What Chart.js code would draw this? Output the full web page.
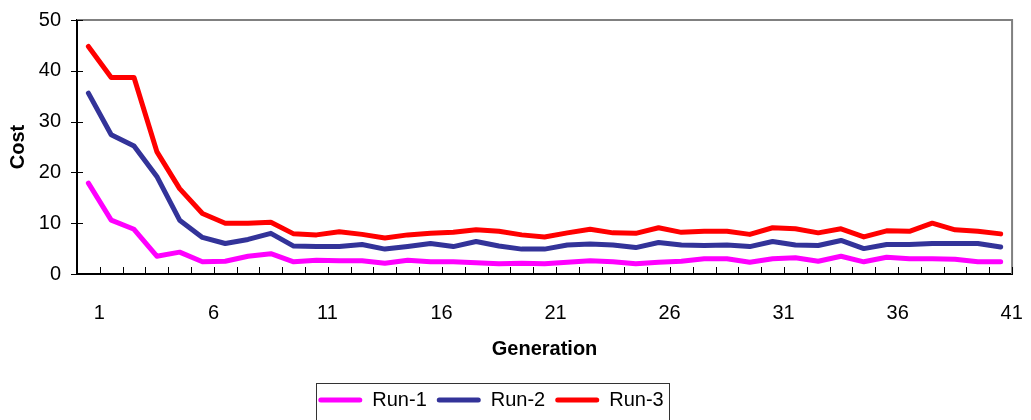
<!DOCTYPE html>
<html>
<head>
<meta charset="utf-8">
<script src="https://cdn.jsdelivr.net/npm/chart.js@4.4.0/dist/chart.umd.min.js"></script>
<style>
  html, body { margin: 0; padding: 0; background: #ffffff; }
  canvas { display: block; }
</style>
</head>
<body>
<canvas id="costChart" width="1031" height="420"></canvas>
<script>
// Generation numbers on the category axis
const generations = ['1','2','3','4','5','6','7','8','9','10',
  '11','12','13','14','15','16','17','18','19','20',
  '21','22','23','24','25','26','27','28','29','30',
  '31','32','33','34','35','36','37','38','39','40','41'];

// Only these generations carry a printed label
const tickLabels = ['1','6','11','16','21','26','31','36','41'];

// Cost per generation for each run
const run1 = [17.9, 10.6, 8.8, 3.5, 4.3, 2.4, 2.5, 3.5, 4.0, 2.4,
  2.7, 2.6, 2.6, 2.1, 2.7, 2.4, 2.4, 2.2, 2.0, 2.1,
  2.0, 2.3, 2.6, 2.4, 2.0, 2.3, 2.5, 3.0, 3.0, 2.3,
  3.0, 3.2, 2.5, 3.5, 2.4, 3.3, 3.0, 3.0, 2.9, 2.4, 2.4];
const run2 = [35.6, 27.4, 25.2, 19.2, 10.6, 7.2, 6.0, 6.8, 8.0, 5.5,
  5.4, 5.4, 5.8, 4.9, 5.4, 6.0, 5.4, 6.4, 5.5, 4.9,
  4.9, 5.7, 5.9, 5.7, 5.2, 6.2, 5.7, 5.6, 5.7, 5.4,
  6.4, 5.7, 5.6, 6.6, 5.0, 5.8, 5.8, 6.0, 6.0, 6.0, 5.3];
const run3 = [44.8, 38.7, 38.7, 24.1, 16.8, 11.9, 10.0, 10.0, 10.2, 7.9,
  7.7, 8.3, 7.8, 7.1, 7.7, 8.0, 8.2, 8.7, 8.4, 7.7,
  7.3, 8.1, 8.8, 8.1, 8.0, 9.1, 8.2, 8.4, 8.4, 7.8,
  9.1, 8.9, 8.1, 8.9, 7.3, 8.5, 8.4, 10.0, 8.7, 8.4, 7.9];

// Cost axis range
const costMin = 0;
const costMax = 50;
const costStep = 10;

const FONT = "'Liberation Sans', Arial, Helvetica, sans-serif";
Chart.defaults.font.family = FONT;
Chart.defaults.color = '#000000';

// Plot frame, tick marks and the box round the legend
const framePlugin = {
  id: 'frame',
  afterLayout(chart) {
    const lg = chart.legend;
    if (lg) { lg.left -= 16; lg.right -= 16; }
  },
  beforeDatasetsDraw(chart) {
    const { ctx, chartArea: a, scales: { x, y } } = chart;
    ctx.save();
    ctx.strokeStyle = '#808080';
    ctx.lineWidth = 2;
    ctx.beginPath();
    ctx.moveTo(a.left, a.top);
    ctx.lineTo(a.right, a.top);
    ctx.lineTo(a.right, a.bottom);
    ctx.stroke();

    ctx.strokeStyle = '#000000';
    ctx.lineWidth = 1;
    ctx.beginPath();
    const step = x.getPixelForValue(1) - x.getPixelForValue(0);
    for (let i = 0; i < generations.length; i++) {
      const bx = Math.round(x.getPixelForValue(i) + step / 2) + 0.5;
      ctx.moveTo(bx, a.bottom);
      ctx.lineTo(bx, a.bottom - 7);
    }
    y.ticks.forEach(t => {
      const py = Math.round(y.getPixelForValue(t.value)) + 0.5;
      ctx.moveTo(a.left - 6, py);
      ctx.lineTo(a.left + 6, py);
    });
    ctx.stroke();
    ctx.restore();
  },
  afterDraw(chart) {
    const lg = chart.legend;
    if (!lg || !lg.lineWidths) return;
    const pad = lg.options.labels.padding;
    const startX = (lg.left + pad + lg.right - lg.lineWidths[0]) / 2;
    const endX = startX + lg.lineWidths[0] - pad;
    const { ctx } = chart;
    ctx.save();
    ctx.strokeStyle = '#333333';
    ctx.lineWidth = 1;
    ctx.strokeRect(Math.round(startX - 2) + 0.5, Math.round(lg.top + 3) + 0.5,
      Math.round(endX - startX + 8), 80);
    ctx.restore();
  }
};

const lineStyle = {
  borderWidth: 5,
  pointRadius: 0,
  pointHoverRadius: 0,
  tension: 0,
  borderJoinStyle: 'round',
  borderCapStyle: 'round',
  fill: false
};

new Chart(document.getElementById('costChart'), {
  type: 'line',
  data: {
    labels: generations,
    datasets: [
      Object.assign({ label: 'Run-1', data: run1, borderColor: '#FF00FF', backgroundColor: '#FF00FF' }, lineStyle),
      Object.assign({ label: 'Run-2', data: run2, borderColor: '#333399', backgroundColor: '#333399' }, lineStyle),
      Object.assign({ label: 'Run-3', data: run3, borderColor: '#FF0000', backgroundColor: '#FF0000' }, lineStyle)
    ]
  },
  options: {
    responsive: false,
    animation: false,
    devicePixelRatio: 1,
    layout: { padding: { top: 13, right: 17, left: 0, bottom: 0 } },
    plugins: {
      tooltip: { enabled: false },
      legend: {
        position: 'bottom',
        labels: {
          font: { size: 20, family: FONT },
          color: '#000000',
          boxWidth: 44,
          boxHeight: 5,
          padding: 10,
          useBorderRadius: true,
          borderRadius: 2.5,
          generateLabels(chart) {
            const items = Chart.defaults.plugins.legend.labels.generateLabels(chart);
            items.forEach(it => { it.lineWidth = 0; it.strokeStyle = 'rgba(0,0,0,0)'; });
            return items;
          }
        }
      }
    },
    scales: {
      x: {
        type: 'category',
        offset: true,
        grid: { display: false },
        border: { display: true, color: '#000000', width: 2 },
        ticks: {
          autoSkip: false,
          maxRotation: 0,
          minRotation: 0,
          padding: 19,
          labelOffset: 11,
          font: { size: 20 },
          color: '#000000',
          callback(value) {
            const l = this.getLabelForValue(value);
            return tickLabels.includes(l) ? l : '';
          }
        },
        title: {
          display: true,
          text: 'Generation',
          font: { size: 20, weight: 'bold' },
          color: '#000000',
          padding: { top: 0, bottom: 19 }
        },
        afterFit(s) {
          const lgH = s.chart.legend ? s.chart.legend.height : 40;
          s.height = s.chart.height - 274 - lgH;
        }
      },
      y: {
        min: costMin,
        max: costMax,
        ticks: { stepSize: costStep, padding: 8, font: { size: 20 }, color: '#000000' },
        grid: { display: false },
        border: { display: true, color: '#000000', width: 2 },
        title: {
          display: true,
          text: 'Cost',
          font: { size: 20, weight: 'bold' },
          color: '#000000',
          padding: { top: 6, bottom: 0 }
        },
        afterFit(s) { s.width = 77; }
      }
    }
  },
  plugins: [framePlugin]
});
</script>
</body>
</html>
